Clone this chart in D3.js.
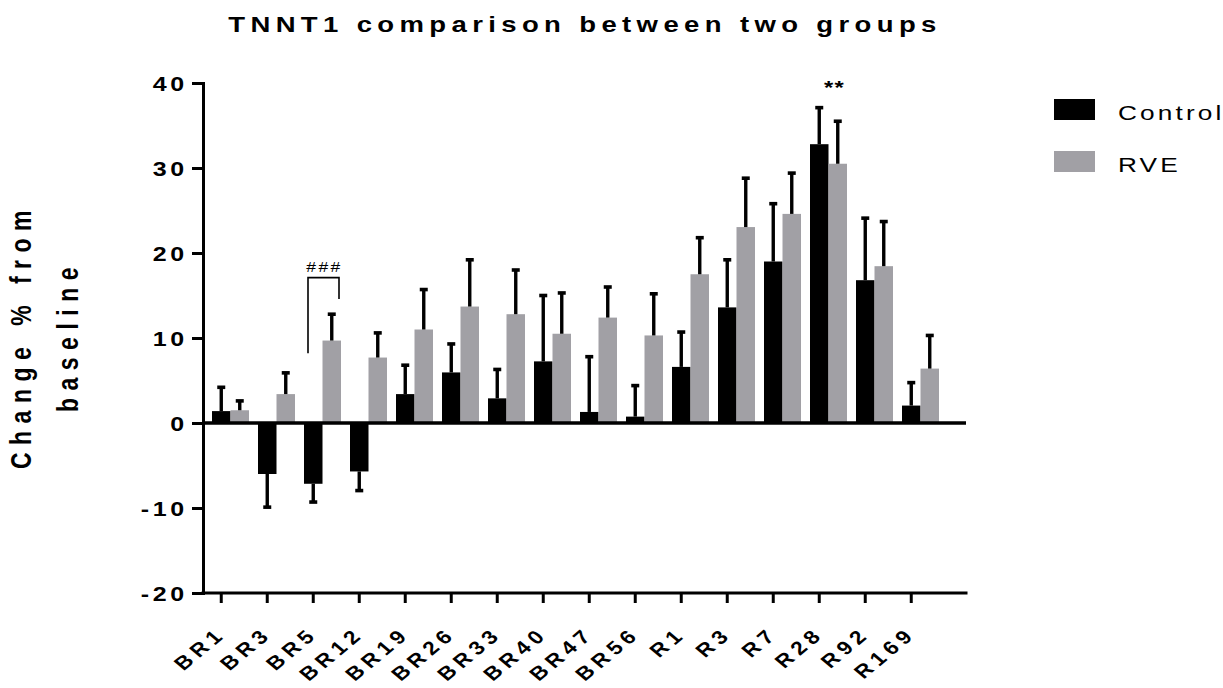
<!DOCTYPE html>
<html>
<head>
  <meta charset="utf-8">
  <title>TNNT1 comparison between two groups</title>
  <script src="https://d3js.org/d3.v7.min.js"></script>
  <style>
    body { margin: 0; background: #fff; }
    svg { display: block; font-family: "Liberation Sans", Arial, Helvetica, sans-serif; }
    .axis path, .axis line { stroke: #000; stroke-width: 3; }
    .axis text { font-weight: bold; fill: #000; }
  </style>
</head>
<body>

  <svg width="1223" height="688"></svg>

  <script>
    // Time points
    const categories = ["BR1", "BR3", "BR5", "BR12", "BR19", "BR26", "BR33", "BR40",
                        "BR47", "BR56", "R1", "R3", "R7", "R28", "R92", "R169"];
    const groups = ["Control", "RVE"];

    // Change % from baseline (mean and error)
    const controlMean = [1.4, -6.0, -7.15, -5.7, 3.4, 5.95, 2.9, 7.25, 1.3, 0.75, 6.6, 13.6, 19.0, 32.8, 16.8, 2.05];
    const controlErr  = [2.8, 3.9, 2.15, 2.25, 3.4, 3.35, 3.4, 7.75, 6.5, 3.65, 4.1, 5.6, 6.8, 4.3, 7.3, 2.7];
    const rveMean     = [1.5, 3.4, 9.7, 7.7, 11.0, 13.7, 12.8, 10.5, 12.4, 10.3, 17.5, 23.05, 24.6, 30.5, 18.45, 6.4];
    const rveErr      = [1.1, 2.5, 3.1, 2.9, 4.7, 5.5, 5.2, 4.8, 3.6, 4.9, 4.3, 5.75, 4.8, 5.0, 5.25, 3.9];

    const yTicks = [-20, -10, 0, 10, 20, 30, 40];
    const colors = ["#000000", "#a1a0a5"];

    // significance marks
    const starCategory = "R28", starLabel = "**";
    const hashCategory = "BR5", hashLabel = "###";
    const hashBracket = [8.2, 17.1, 14.6]; // left end, top, right end

    const rows = categories.map((c, i) => ({
      cat: c,
      values: [
        { group: "Control", mean: controlMean[i], err: controlErr[i] },
        { group: "RVE", mean: rveMean[i], err: rveErr[i] }
      ]
    }));

    // the text in the original export is a bit wide, stretch it
    const SX = 1.25;

    const svg = d3.select("svg");

    const axisLeftX = 203, axisRightX = 966;

    const x0 = d3.scaleBand()
      .domain(categories)
      .range([207.5, 943.5])
      .paddingInner(9 / 46)
      .paddingOuter(9 / 92);

    const x1 = d3.scaleBand()
      .domain(groups)
      .range([0, x0.bandwidth()]);

    const y = d3.scaleLinear()
      .domain([-20, 40])
      .range([593, 83]);

    const color = d3.scaleOrdinal().domain(groups).range(colors);

    // Bars
    const grp = svg.selectAll(".grp")
      .data(rows)
      .enter()
      .append("g")
      .attr("class", "grp")
      .attr("transform", d => `translate(${x0(d.cat)},0)`);

    grp.selectAll("rect")
      .data(d => d.values)
      .enter()
      .append("rect")
      .attr("x", d => x1(d.group))
      .attr("y", d => Math.min(y(d.mean), y(0)))
      .attr("width", x1.bandwidth())
      .attr("height", d => Math.abs(y(d.mean) - y(0)))
      .attr("fill", d => color(d.group));

    // Error bars (one-sided, away from zero)
    const errEnd = d => d.mean + (d.mean < 0 ? -d.err : d.err);
    grp.selectAll(".err")
      .data(d => d.values)
      .enter()
      .append("line")
      .attr("x1", d => x1(d.group) + x1.bandwidth() / 2)
      .attr("x2", d => x1(d.group) + x1.bandwidth() / 2)
      .attr("y1", d => y(d.mean))
      .attr("y2", d => y(errEnd(d)))
      .attr("stroke", "#000")
      .attr("stroke-width", 3.4);

    grp.selectAll(".cap")
      .data(d => d.values)
      .enter()
      .append("line")
      .attr("x1", d => x1(d.group) + x1.bandwidth() / 2 - 4)
      .attr("x2", d => x1(d.group) + x1.bandwidth() / 2 + 4)
      .attr("y1", d => y(errEnd(d)))
      .attr("y2", d => y(errEnd(d)))
      .attr("stroke", "#000")
      .attr("stroke-width", 3.6);

    // Zero line
    svg.append("line")
      .attr("x1", axisLeftX).attr("x2", axisRightX)
      .attr("y1", y(0)).attr("y2", y(0))
      .attr("stroke", "#000")
      .attr("stroke-width", 3.5);

    // Y axis (plain hyphen for negatives, as in the original)
    const yAxis = svg.append("g")
      .attr("class", "axis")
      .attr("transform", `translate(${axisLeftX},0)`)
      .call(d3.axisLeft(y).tickValues(yTicks).tickFormat(d => String(d))
        .tickSize(11).tickSizeOuter(0));
    yAxis.select(".domain").attr("stroke-linecap", "square");
    yAxis.selectAll(".tick text")
      .attr("x", 0)
      .attr("dy", "0.36em")
      .attr("transform", `translate(-15,0) scale(${SX},1)`)
      .style("font-size", "20px")
      .style("letter-spacing", "3px");

    // X axis: ticks under the Control bars
    svg.append("line")
      .attr("x1", axisLeftX).attr("x2", axisRightX)
      .attr("y1", y(-20)).attr("y2", y(-20))
      .attr("stroke", "#000")
      .attr("stroke-width", 3)
      .attr("stroke-linecap", "square");

    const xAxis = svg.append("g")
      .attr("class", "axis")
      .attr("transform", `translate(${-x1.bandwidth() / 2},${y(-20)})`)
      .call(d3.axisBottom(x0).tickSize(10).tickSizeOuter(0));
    xAxis.select(".domain").remove();
    xAxis.selectAll(".tick text")
      .attr("x", 0).attr("y", 0).attr("dy", 0)
      .attr("text-anchor", "end")
      .attr("transform", "translate(6,42) scale(1.2,1) rotate(-45)")
      .style("font-size", "19px")
      .style("letter-spacing", "4.5px");

    // Title
    svg.append("text")
      .attr("text-anchor", "middle")
      .attr("transform", `translate(585,32) scale(${SX},1)`)
      .style("font-size", "22px")
      .style("font-weight", "bold")
      .style("letter-spacing", "4.3px")
      .text("TNNT1 comparison between two groups");

    // Y axis title
    const yTitle = svg.append("text")
      .attr("text-anchor", "middle")
      .attr("transform", `translate(31,336) scale(${SX},1) rotate(-90)`)
      .style("font-size", "23px")
      .style("font-weight", "bold")
      .style("letter-spacing", "7.5px");
    yTitle.append("tspan")
      .attr("x", 0).attr("y", 0)
      .text("Change % from");
    yTitle.append("tspan")
      .attr("x", 0).attr("y", 47 / SX)
      .text("baseline");

    // Legend
    const legend = svg.append("g")
      .attr("transform", "translate(1054,99)");
    const item = legend.selectAll("g")
      .data(groups)
      .enter()
      .append("g")
      .attr("transform", (d, i) => `translate(0,${i * 52})`);
    item.append("rect")
      .attr("width", 41).attr("height", 21)
      .attr("fill", d => color(d));
    item.append("text")
      .attr("transform", `translate(64,21) scale(${SX},1)`)
      .style("font-size", "21px")
      .style("letter-spacing", "2.5px")
      .text(d => d);

    // ** above R28
    svg.append("text")
      .attr("text-anchor", "middle")
      .attr("transform", `translate(${x0(starCategory) + x0.bandwidth() / 2 + 6},94) scale(${SX},1)`)
      .style("font-size", "19px")
      .style("font-weight", "bold")
      .style("letter-spacing", "1px")
      .text(starLabel);

    // ### bracket at BR5
    const bl = x0(hashCategory) + 4, br = x0(hashCategory) + x0.bandwidth() - 2;
    svg.append("path")
      .attr("d", `M${bl},${y(hashBracket[0])}V${y(hashBracket[1])}H${br}V${y(hashBracket[2])}`)
      .attr("fill", "none")
      .attr("stroke", "#000")
      .attr("stroke-width", 1.6);
    svg.append("text")
      .attr("text-anchor", "middle")
      .attr("transform", `translate(${(bl + br) / 2 + 1},${y(hashBracket[1]) - 6}) scale(${SX},1)`)
      .style("font-size", "14px")
      .style("letter-spacing", "2px")
      .text(hashLabel);
  </script>

</body>
</html>
